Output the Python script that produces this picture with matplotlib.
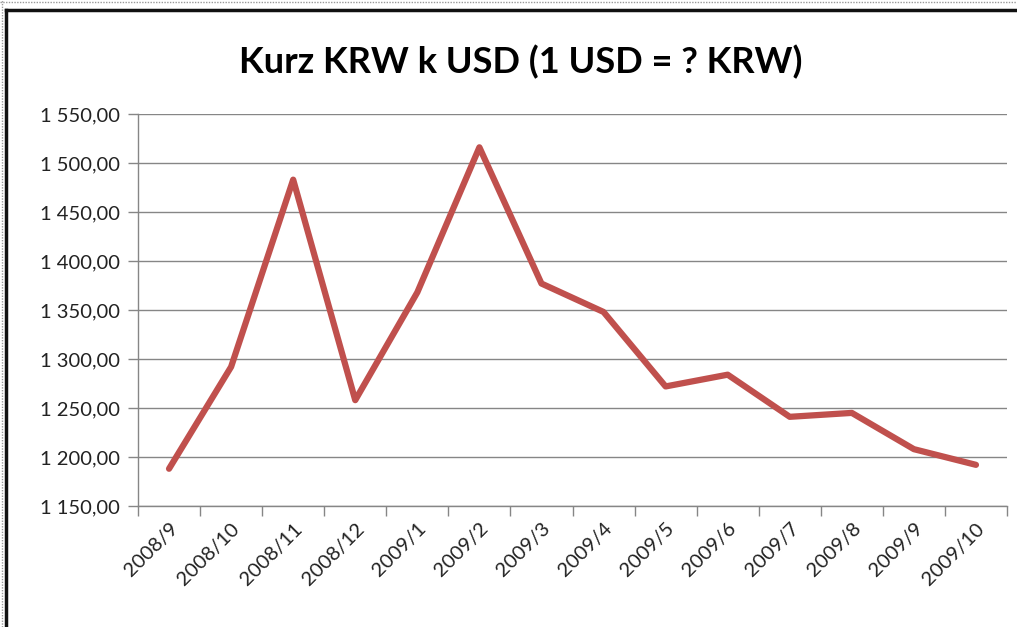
import matplotlib
matplotlib.use("Agg")
import matplotlib.pyplot as plt
from matplotlib.lines import Line2D

# Data
months = ["2008/9", "2008/10", "2008/11", "2008/12", "2009/1", "2009/2", "2009/3",
          "2009/4", "2009/5", "2009/6", "2009/7", "2009/8", "2009/9", "2009/10"]
krw_per_usd = [1188, 1292, 1483, 1258, 1368, 1516, 1377,
               1348, 1272, 1284, 1241, 1245, 1208, 1192]
y_ticks = [1150, 1200, 1250, 1300, 1350, 1400, 1450, 1500, 1550]

plt.rcParams['font.family'] = ['Lato', 'DejaVu Sans']

fig = plt.figure(figsize=(10.17, 6.27), dpi=100)
ax = fig.add_axes([138/1017, 1 - 506/627, (1007-138)/1017, (506-114)/627])

x = [i + 0.5 for i in range(len(months))]
ax.plot(x, krw_per_usd, color="#C0504D", lw=4.5, solid_capstyle="round",
        solid_joinstyle="round", zorder=3)

ax.set_xlim(0, len(months))
ax.set_ylim(1150, 1550)
ax.set_yticks(y_ticks)
ax.set_yticklabels([f"{v // 1000} {v % 1000:03d},00" for v in y_ticks], fontsize=14.5, color="#222222")
ax.set_xticks(range(len(months) + 1))
ax.set_xticklabels([])
ax.set_xticks(x, minor=True)
ax.set_xticklabels(months, minor=True, rotation=45, ha="right", rotation_mode="anchor",
                   fontsize=14.5, color="#222222")
ax.tick_params(axis="x", which="minor", length=0, pad=10)
ax.tick_params(axis="x", which="major", length=7, color="#868686", width=1)
ax.tick_params(axis="y", length=7, color="#868686", width=1, pad=6)

ax.grid(axis="y", color="#868686", lw=1)
ax.set_axisbelow(True)
for s in ["top", "right"]:
    ax.spines[s].set_visible(False)
for s in ["left", "bottom"]:
    ax.spines[s].set_color("#868686")
    ax.spines[s].set_linewidth(1)

fig.text(521/1017, 1 - 62/627, "Kurz KRW k USD (1 USD = ? KRW)", ha="center", va="center",
         fontsize=26, fontweight="bold", color="black")

# chart frame
fig.add_artist(Line2D([6/1017, 6/1017], [0, 1 - 10/627], transform=fig.transFigure,
                      color="#111111", lw=2.5))
fig.add_artist(Line2D([6/1017, 1], [1 - 10/627, 1 - 10/627], transform=fig.transFigure,
                      color="#111111", lw=2.5))
fig.add_artist(Line2D([0, 1], [1 - 1.5/627, 1 - 1.5/627], transform=fig.transFigure,
                      color="#999999", lw=1, ls=(0, (1, 1))))
fig.add_artist(Line2D([1.5/1017, 1.5/1017], [0, 1], transform=fig.transFigure,
                      color="#999999", lw=1, ls=(0, (1, 1))))

fig.savefig("out.png", dpi=100)
